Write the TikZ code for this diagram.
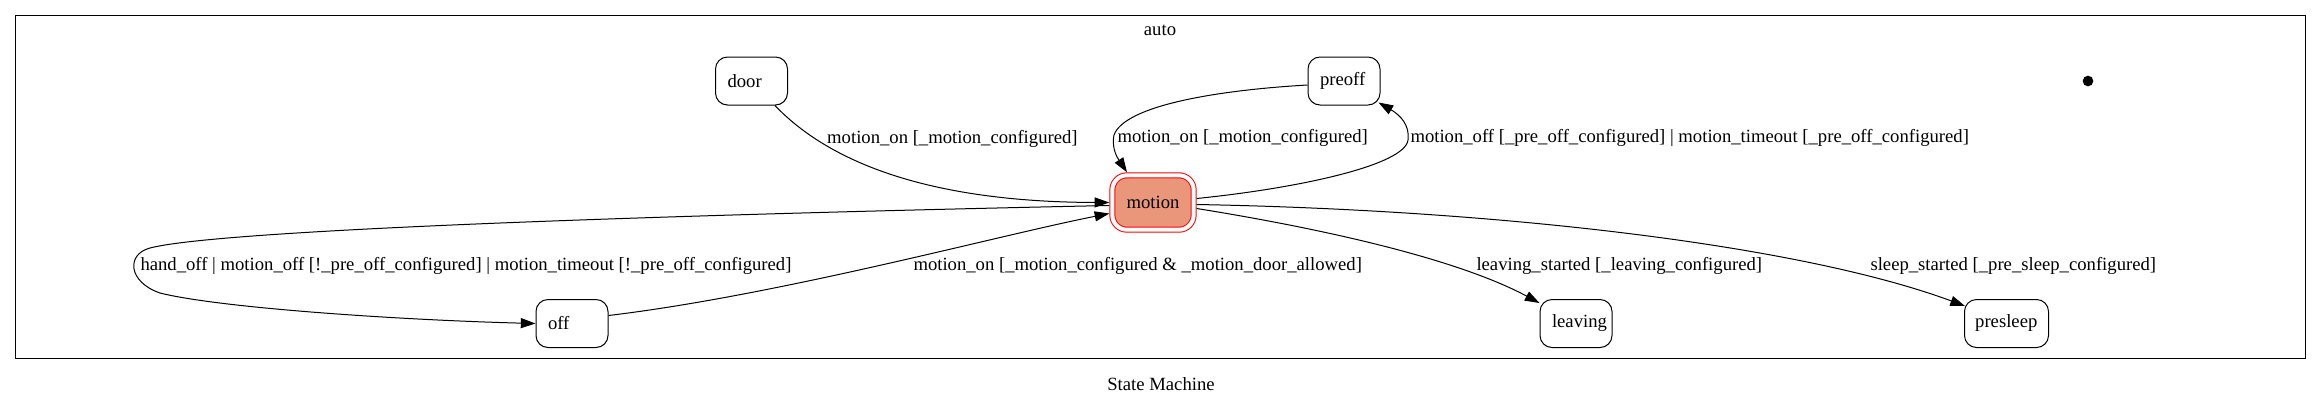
\documentclass[tikz,border=0pt]{standalone}
\usepackage{fontspec}
\setmainfont{Liberation Serif}
\usepackage{xcolor}
\usepackage{tikz}
\usetikzlibrary{arrows.meta}
\definecolor{motionfill}{HTML}{E9967A}
\tikzstyle{state}=[rectangle,draw,rounded corners=9pt,minimum height=36pt,text width=36pt,inner xsep=9pt,align=left]
\tikzstyle{active}=[rectangle,draw=red,fill=motionfill,double=white,double distance=3pt,rounded corners=11pt,minimum width=61pt,minimum height=40.8pt,text width=40pt,inner xsep=0pt,align=center,outer sep=2.25pt]
\tikzstyle{startdot}=[circle,fill=black,inner sep=0pt,minimum size=8pt]
\tikzstyle{trans}=[anchor=west,inner sep=0pt]

\begin{document}
\begin{tikzpicture}[x=0.75pt,y=-0.75pt,line width=0.75pt,font=\fontsize{14}{16}\selectfont,>={Triangle[length=11pt,width=7.5pt]}]
        \useasboundingbox (0,0) rectangle (2321,405);
        \draw (15.5,15.7) rectangle (2305,358.5);
        \node at (1160,30.5) (auto) {auto};
        \node at (1161,384) (title) {State Machine};

        \node at (751.5,81) [state] (door) {door};
        \node at (1344,81) [state] (preoff) {preoff};
        \node at (1153,202.5) [active] (motion) {motion};
        \node at (572,323.5) [state] (off) {off};
        \node at (1576,323.5) [state] (leaving) {leaving};
        \node at (2006.5,323.5) [state,text width=47pt,inner xsep=8pt] (presleep) {presleep};
        \node at (2088,81) [startdot] (init) {};

        \draw [->] (door) .. controls (830,163) and (930,202) .. (motion.west);
        \draw [->] ([shift={(0,4)}]preoff.west) .. controls (1220,90) and (1125,105) .. (1114,135)
                .. controls (1111,150) and (1119,160) .. ([shift={(-26,0)}]motion.north);
        \draw [->] ([shift={(0,-4)}]motion.east) .. controls (1300,188) and (1405,165) .. (1408,140)
                .. controls (1410,125) and (1400,115) .. ([shift={(-2,-3)}]preoff.south east);
        \draw [->] ([shift={(0,3)}]motion.west) .. controls (800,212) and (230,227) .. (150,248)
                .. controls (126,254.3) and (128,282) .. (160,293)
                .. controls (220,308) and (400,320) .. (off.west);
        \draw [->] ([shift={(0,-8)}]off.east) .. controls (780,295) and (1000,235) .. ([shift={(0,11)}]motion.west);
        \draw [->] ([shift={(0,6)}]motion.east) .. controls (1300,225) and (1450,255) .. ([shift={(0,4)}]leaving.north west);
        \draw [->] ([shift={(0,2)}]motion.east) .. controls (1500,210) and (1800,245) .. ([shift={(1,7)}]presleep.north west);

        \node at (826.7,139) [trans] (ldoor) {motion\_on [\_motion\_configured]};
        \node at (1117,138) [trans] (lpreoff) {motion\_on [\_motion\_configured]};
        \node at (1410,138) [trans] (lpreoffin) {motion\_off [\_pre\_off\_configured] | motion\_timeout [\_pre\_off\_configured]};
        \node at (140,266) [trans] (loffin) {hand\_off | motion\_off [!\_pre\_off\_configured] | motion\_timeout [!\_pre\_off\_configured]};
        \node at (913,266) [trans] (loff) {motion\_on [\_motion\_configured \& \_motion\_door\_allowed]};
        \node at (1476,265.5) [trans] (lleaving) {leaving\_started [\_leaving\_configured]};
        \node at (1870,266) [trans] (lsleep) {sleep\_started [\_pre\_sleep\_configured]};
      \end{tikzpicture}
\end{document}
